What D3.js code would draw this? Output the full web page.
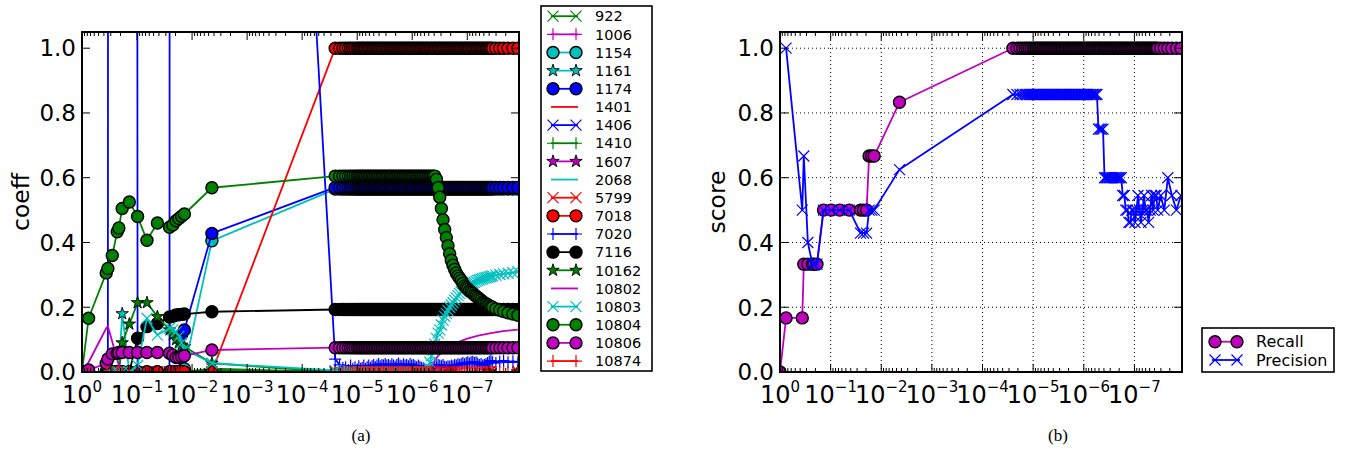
<!DOCTYPE html>
<html><head><meta charset="utf-8">
<script src="https://cdn.jsdelivr.net/npm/d3@7"></script>
<style>
body{margin:0;background:#fff}
svg{display:block}
text{font-family:"DejaVu Sans",sans-serif;fill:#000}
</style></head>
<body><svg id="chart" width="1348" height="451"></svg>
<script>
// ---------- DATA ----------
// x positions given as exponent e, alpha = 10^-e
const negLogAlphaL = [0, 0.12, 0.44, 0.47, 0.55, 0.64, 0.67, 0.73, 0.86, 1.01, 1.18, 1.37, 1.59, 1.65, 1.71, 1.76, 1.81, 1.86, 2.36];
const negLogAlphaR = [4.60, 4.68, 4.74, 4.79, 4.84, 4.88, 4.92, 4.96, 5.00,
  5.03, 5.06, 5.09, 5.12, 5.15, 5.18, 5.21, 5.24, 5.27, 5.30,
  5.33, 5.36, 5.39, 5.42, 5.45, 5.48, 5.51, 5.54, 5.57, 5.60,
  5.63, 5.66, 5.69, 5.72, 5.75, 5.78, 5.81, 5.84, 5.87, 5.90,
  5.93, 5.96, 5.99, 6.02, 6.05, 6.08, 6.11, 6.14, 6.17, 6.20,
  6.23, 6.26, 6.29, 6.32, 6.35, 6.38, 6.41, 6.44, 6.47, 6.50,
  6.53, 6.56, 6.59, 6.62, 6.65, 6.68, 6.71, 6.74, 6.77, 6.80,
  6.83, 6.86, 6.89, 6.92, 6.95, 6.98, 7.01, 7.04, 7.07, 7.10,
  7.13, 7.16, 7.19, 7.22, 7.25, 7.28, 7.31, 7.34, 7.37, 7.40,
  7.43, 7.46, 7.52, 7.59, 7.66, 7.74, 7.83, 7.92];
const negLogAlphaS = [4.60, 5.30, 6.00, 6.70, 7.40, 7.92];
const negLogAlpha10802 = [0, 0.12, 0.44, 0.47, 0.67, 0.73, 1.01, 2.36, 4.60, 6.20, 6.35, 6.47, 6.60, 6.80, 7.00, 7.20, 7.43, 7.65, 7.92];

const seriesIds = ["922","1006","1154","1161","1174","1401","1406","1410","1607","2068","5799","7018","7020","7116","10162","10802","10803","10804","10806","10874"];

// sparse-grid series (left grid + sparse right grid)
const coeff922  = [0,0,0,0,0,0,0,0,0,0,0,0,0,0,0,0,0,0,0.01, 0,0,0,0,0,0];
const coeff1006 = [0,0,0,0,0,0,0,0,0,0,0,0,0,0,0,0,0,0,0, 0,0,0,0,0,0];
const coeff1161 = [0,0,0,0,0,0,0,0.18,0,0,0,0,0,0,0,0,0,0,0, 0,0,0,0,0,0];
const coeff1401 = [0,0,0,0,0,0,0,0,0,0,0,0,0,0,0,0,0,0,0, 0,0,0,0,0,0];
const coeff1406 = [0,0,0,0,0,0,0,0,0,0,0,0,0,0,0,0,0,0,0, 0,0,0,0,0,0];
const coeff1410 = [0,0,0,0,0,0,0,0,0,0,0,0,0,0,0,0,0,0,0.005, 0,0,0,0,0,0];
const coeff1607 = [0,0,0,0,0,0,0,0,0,0,0,0,0,0,0,0,0,0,0, 0,0,0,0,0,0];
const coeff2068 = [0,0,0,0,0,0,0,0,0,0,0,0,0,0,0,0,0,0,0, 0,0,0,0,0,0];
const coeff5799 = [0,0,0,0,0,0,0,0,0,0,0,0,0,0,0,0,0,0,0, 0,0,0,0,0,0];
const coeff10162 = [0,0,0,0,0,0,0,0.09,0.148,0.214,0.214,0.171,0.13,0.115,0.1,0.09,0.083,0.078,0.027, 0,0,0,0,0,0];
const coeff10802 = [0,0.03,0.135,0.142,0.02,0,0,0,0,0,0.02,0.05,0.07,0.09,0.103,0.112,0.12,0.126,0.131];

// full-grid series (left grid 19 values + dense right grid 97 values)
const coeff1154 = [0,0,0,0,0,0,0,0,0,0,0,0,0,0,0,0,0,0.01,0.405,
  0.565,0.565,0.565,0.565,0.565,0.565,0.565,0.565,0.565,
  0.565,0.565,0.565,0.565,0.565,0.565,0.565,0.565,0.565,0.565,
  0.565,0.565,0.565,0.565,0.565,0.565,0.565,0.565,0.565,0.565,
  0.565,0.565,0.565,0.565,0.565,0.565,0.565,0.565,0.565,0.565,
  0.565,0.565,0.565,0.565,0.565,0.565,0.565,0.565,0.565,0.565,
  0.565,0.565,0.565,0.565,0.565,0.565,0.565,0.565,0.565,0.565,
  0.565,0.565,0.565,0.565,0.565,0.565,0.565,0.565,0.565,0.565,
  0.565,0.565,0.565,0.565,0.565,0.565,0.565,0.565,0.565,0.565,
  0.565,0.565,0.565,0.565,0.565,0.565,0.565,0.565,0.565,0.565,
  0.565,0.565,0.565,0.565,0.565,0.565,0.565,0.565];
const coeff1174 = [0,0,0,0,0,0,0,0,0,0,0,0,0,0,0,0,0.115,0.13,0.428,
  0.57,0.57,0.57,0.57,0.57,0.57,0.57,0.57,0.57,
  0.57,0.57,0.57,0.57,0.57,0.57,0.57,0.57,0.57,0.57,
  0.57,0.57,0.57,0.57,0.57,0.57,0.57,0.57,0.57,0.57,
  0.57,0.57,0.57,0.57,0.57,0.57,0.57,0.57,0.57,0.57,
  0.57,0.57,0.57,0.57,0.57,0.57,0.57,0.57,0.57,0.57,
  0.57,0.57,0.57,0.57,0.57,0.57,0.57,0.57,0.57,0.57,
  0.57,0.57,0.57,0.57,0.57,0.57,0.57,0.57,0.57,0.57,
  0.57,0.57,0.57,0.57,0.57,0.57,0.57,0.57,0.57,0.57,
  0.57,0.57,0.57,0.57,0.57,0.57,0.57,0.57,0.57,0.57,
  0.57,0.57,0.57,0.57,0.57,0.57,0.57,0.57];
const coeff7018 = [0,0,0,0,0,0,0,0,0,0,0,0,0,0,0,0,0,0,0,
  1,1,1,1,1,1,1,1,1,
  1,1,1,1,1,1,1,1,1,1,
  1,1,1,1,1,1,1,1,1,1,
  1,1,1,1,1,1,1,1,1,1,
  1,1,1,1,1,1,1,1,1,1,
  1,1,1,1,1,1,1,1,1,1,
  1,1,1,1,1,1,1,1,1,1,
  1,1,1,1,1,1,1,1,1,1,
  1,1,1,1,1,1,1,1,1,1,
  1,1,1,1,1,1,1,1];
const coeff7020 = [0,0,0,0,40,40,40,40,40,0,0,0,0,40,40,40,40,40,6.7,
  0.04,0.022,0.012,0.015,0.006,0.02,0.01,0.015,0.008,
  0.018,0.01,0.012,0.02,0.01,0.015,0.02,0.012,0.018,0.022,
  0.015,0.02,0.025,0.018,0.022,0.02,0.025,0.02,0.022,0.018,
  0.024,0.02,0.016,0.022,0.026,0.02,0.018,0.024,0.02,0.022,
  0.018,0.025,0.02,0.022,0.018,0.015,0.02,0.016,0.012,0.01,
  0.008,0.005,0.006,0.01,0.012,0.015,0.018,0.02,0.022,0.02,
  0.018,0.022,0.016,0.015,0.018,0.016,0.02,0.018,0.022,0.02,
  0.024,0.022,0.025,0.028,0.024,0.028,0.03,0.026,0.03,0.032,
  0.028,0.03,0.026,0.022,0.025,0.02,0.022,0.025,0.028,0.032,
  0.035,0.03,0.028,0.032,0.035,0.03,0.033,0.03];
const coeff7116 = [0,0,0,0,0,0,0,0,0,0.104,0.14,0.15,0.17,0.172,0.176,0.177,0.178,0.179,0.186,
  0.193,0.193,0.193,0.193,0.193,0.193,0.193,0.193,0.193,
  0.193,0.193,0.193,0.193,0.193,0.193,0.193,0.193,0.193,0.193,
  0.193,0.193,0.193,0.193,0.193,0.193,0.193,0.193,0.193,0.193,
  0.193,0.193,0.193,0.193,0.193,0.193,0.193,0.193,0.193,0.193,
  0.193,0.193,0.193,0.193,0.193,0.193,0.193,0.193,0.193,0.193,
  0.193,0.193,0.193,0.193,0.193,0.193,0.193,0.193,0.193,0.193,
  0.193,0.193,0.193,0.193,0.193,0.193,0.193,0.193,0.193,0.193,
  0.193,0.193,0.193,0.193,0.193,0.193,0.193,0.193,0.193,0.193,
  0.193,0.193,0.193,0.193,0.193,0.193,0.193,0.193,0.193,0.193,
  0.193,0.193,0.193,0.193,0.193,0.193,0.193,0.193];
const coeff10803 = [0,0,0,0,0,0,0,0,0,0.02,0.166,0.114,0.135,0.13,0.124,0.11,0.09,0.07,0.027,
  0.005,0,0,0,0,0,0,0,0,
  0,0,0,0,0,0,0,0,0,0,
  0,0,0,0,0,0,0,0,0,0,
  0,0,0,0,0,0,0,0,0,0,
  0,0,0,0,0,0,0,0,0,0,
  0,0,0.015,0.03,0.05,0.068,0.086,0.104,0.12,0.13,
  0.145,0.16,0.172,0.181,0.19,0.2,0.207,0.214,0.222,0.229,
  0.236,0.242,0.247,0.252,0.257,0.262,0.266,0.269,0.272,0.275,
  0.277,0.28,0.283,0.285,0.287,0.288,0.29,0.291,0.292,0.294,
  0.295,0.297,0.299,0.301,0.303,0.305,0.307,0.31];
const coeff10804 = [0,0.166,0.306,0.32,0.36,0.433,0.445,0.505,0.525,0.48,0.407,0.46,0.447,0.454,0.467,0.474,0.481,0.488,0.569,
  0.605,0.605,0.605,0.605,0.605,0.605,0.605,0.605,0.605,
  0.605,0.605,0.605,0.605,0.605,0.605,0.605,0.605,0.605,0.605,
  0.605,0.605,0.605,0.605,0.605,0.605,0.605,0.605,0.605,0.605,
  0.605,0.605,0.605,0.605,0.605,0.605,0.605,0.605,0.605,0.605,
  0.605,0.605,0.605,0.605,0.605,0.605,0.605,0.605,0.605,0.605,
  0.605,0.605,0.605,0.605,0.605,0.605,0.605,0.595,0.57,0.54,
  0.505,0.47,0.44,0.415,0.39,0.365,0.345,0.33,0.317,0.306,
  0.297,0.29,0.283,0.274,0.266,0.26,0.256,0.251,0.247,0.243,
  0.238,0.234,0.23,0.226,0.222,0.217,0.214,0.211,0.208,0.205,
  0.202,0.2,0.195,0.191,0.187,0.183,0.179,0.175];
const coeff10806 = [0,0.006,0.027,0.04,0.056,0.058,0.06,0.06,0.06,0.06,0.06,0.06,0.058,0.052,0.045,0.045,0.048,0.05,0.068,
  0.075,0.075,0.075,0.075,0.075,0.075,0.075,0.075,0.075,
  0.075,0.075,0.075,0.075,0.075,0.075,0.075,0.075,0.075,0.075,
  0.075,0.075,0.075,0.075,0.075,0.075,0.075,0.075,0.075,0.075,
  0.075,0.075,0.075,0.075,0.075,0.075,0.075,0.075,0.075,0.075,
  0.075,0.075,0.075,0.075,0.075,0.075,0.075,0.075,0.075,0.075,
  0.075,0.075,0.075,0.075,0.075,0.075,0.075,0.075,0.075,0.075,
  0.075,0.075,0.075,0.075,0.075,0.075,0.075,0.075,0.075,0.075,
  0.075,0.075,0.075,0.075,0.075,0.075,0.075,0.075,0.075,0.075,
  0.075,0.075,0.075,0.075,0.075,0.075,0.075,0.075,0.075,0.075,
  0.075,0.075,0.075,0.075,0.075,0.075,0.075,0.075];
const coeff10874 = [0,0,0,0,0,0,0,0,0,0,0,0,0,0,0,0,0,0,0,
  0,0,0,0,0,0,0,0,0,
  0,0,0,0,0,0,0,0,0,0,
  0,0,0,0,0,0,0,0,0,0,
  0,0,0,0,0,0,0,0,0,0,
  0,0,0,0,0,0,0,0,0,0,
  0,0,0,0,0,0,0,0,0,0,
  0,0,0,0,0,0,0,0,0,0,
  0,0,0,0,0,0,0,0,0,0,
  0,0,0,0,0,0,0,0,0,0,
  0,0,0,0,0,0,0,0];

// panel (b)
const recall = [0,0.167,0.167,0.333,0.333,0.333,0.333,0.333,0.5,0.5,0.5,0.5,0.5,0.5,0.5,0.667,0.667,0.667,0.833,
  1,1,1,1,1,1,1,1,1,
  1,1,1,1,1,1,1,1,1,1,
  1,1,1,1,1,1,1,1,1,1,
  1,1,1,1,1,1,1,1,1,1,
  1,1,1,1,1,1,1,1,1,1,
  1,1,1,1,1,1,1,1,1,1,
  1,1,1,1,1,1,1,1,1,1,
  1,1,1,1,1,1,1,1,1,1,
  1,1,1,1,1,1,1,1,1,1,
  1,1,1,1,1,1,1,1];
const precision = [null,1.0,0.5,0.667,0.4,0.333,0.333,0.333,0.5,0.5,0.5,0.5,0.429,0.429,0.429,0.5,0.5,0.5,0.625,
  0.857,0.857,0.857,0.857,0.857,0.857,0.857,0.857,0.857,
  0.857,0.857,0.857,0.857,0.857,0.857,0.857,0.857,0.857,0.857,
  0.857,0.857,0.857,0.857,0.857,0.857,0.857,0.857,0.857,0.857,
  0.857,0.857,0.857,0.857,0.857,0.857,0.857,0.857,0.857,0.857,
  0.857,0.857,0.857,0.857,0.857,0.857,0.857,0.857,0.857,0.857,
  0.857,0.857,0.75,0.75,0.75,0.75,0.6,0.6,0.6,0.6,
  0.6,0.6,0.6,0.6,0.6,0.6,0.6,0.6,0.545,0.545,
  0.5,0.5,0.462,0.462,0.5,0.5,0.462,0.5,0.545,0.5,
  0.462,0.5,0.545,0.5,0.5,0.462,0.5,0.545,0.5,0.545,
  0.545,0.5,0.545,0.5,0.6,0.545,0.5,0.545];

const yTicks = [0, 0.2, 0.4, 0.6, 0.8, 1.0];
const xTickExponents = [0, -1, -2, -3, -4, -5, -6, -7];
const panelAYLabel = "coeff", panelBYLabel = "score";
const captionA = "(a)", captionB = "(b)";
const legendB = ["Recall", "Precision"];

// ---------- STYLES ----------
const C = {g:"#008000", m:"#bf00bf", c:"#00bfbf", b:"#0000ff", r:"#ff0000", k:"#000000"};
const styleById = {
  "922":{color:C.g,marker:"x"}, "1006":{color:C.m,marker:"+"}, "1154":{color:C.c,marker:"o"},
  "1161":{color:C.c,marker:"*"}, "1174":{color:C.b,marker:"o"}, "1401":{color:C.r,marker:null},
  "1406":{color:C.b,marker:"x"}, "1410":{color:C.g,marker:"+"}, "1607":{color:C.m,marker:"*"},
  "2068":{color:C.c,marker:null}, "5799":{color:C.r,marker:"x"}, "7018":{color:C.r,marker:"o"},
  "7020":{color:C.b,marker:"+"}, "7116":{color:C.k,marker:"o"}, "10162":{color:C.g,marker:"*"},
  "10802":{color:C.m,marker:null}, "10803":{color:C.c,marker:"x"}, "10804":{color:C.g,marker:"o"},
  "10806":{color:C.m,marker:"o"}, "10874":{color:C.r,marker:"+"}
};

const gridFull = negLogAlphaL.concat(negLogAlphaR);
const gridSparse = negLogAlphaL.concat(negLogAlphaS);
const seriesValues = {
  "922":[gridSparse,coeff922], "1006":[gridSparse,coeff1006], "1154":[gridFull,coeff1154],
  "1161":[gridSparse,coeff1161], "1174":[gridFull,coeff1174], "1401":[gridSparse,coeff1401],
  "1406":[gridSparse,coeff1406], "1410":[gridSparse,coeff1410], "1607":[gridSparse,coeff1607],
  "2068":[gridSparse,coeff2068], "5799":[gridSparse,coeff5799], "7018":[gridFull,coeff7018],
  "7020":[gridFull,coeff7020], "7116":[gridFull,coeff7116], "10162":[gridSparse,coeff10162],
  "10802":[negLogAlpha10802,coeff10802], "10803":[gridFull,coeff10803], "10804":[gridFull,coeff10804],
  "10806":[gridFull,coeff10806], "10874":[gridFull,coeff10874]
};

// ---------- DRAW ----------
const svg = d3.select("#chart");
const LW = 1.8;

function drawMarker(g, type, color, x, y) {
  if (type === "o") {
    g.append("circle").attr("cx", x).attr("cy", y).attr("r", 6)
      .attr("fill", color).attr("stroke", "#000").attr("stroke-width", 1.4);
  } else if (type === "*") {
    g.append("path").attr("d", d3.symbol(d3.symbolStar, 48)())
      .attr("transform", `translate(${x},${y})`)
      .attr("fill", color).attr("stroke", "#000").attr("stroke-width", 0.9);
  } else if (type === "x") {
    const s = 5.5;
    g.append("path").attr("d", `M${x-s},${y-s}L${x+s},${y+s}M${x-s},${y+s}L${x+s},${y-s}`)
      .attr("stroke", color).attr("stroke-width", 1.2).attr("fill", "none");
  } else if (type === "+") {
    const s = 6;
    g.append("path").attr("d", `M${x-s},${y}H${x+s}M${x},${y-s}V${y+s}`)
      .attr("stroke", color).attr("stroke-width", 1.2).attr("fill", "none");
  }
}

function drawSeries(g, xs, ys, xS, yS, st) {
  const pts = xs.map((e, i) => ({a: Math.pow(10, -e), v: ys[i]})).filter(p => p.v !== null && p.v !== undefined);
  g.append("path").datum(pts)
    .attr("d", d3.line().x(p => xS(p.a)).y(p => yS(p.v)))
    .attr("fill", "none").attr("stroke", st.color).attr("stroke-width", LW)
    .attr("stroke-linejoin", "round");
  if (st.marker) pts.forEach(p => drawMarker(g, st.marker, st.color, xS(p.a), yS(p.v)));
}

function makePanel(box, id, withGrid) {
  const x = d3.scaleLog().domain([1, Math.pow(10, -7.94)]).range([box.left, box.right]);
  const y = d3.scaleLinear().domain([0, 1.05]).range([box.bottom, box.top]);
  svg.append("clipPath").attr("id", id).append("rect")
    .attr("x", box.left).attr("y", box.top)
    .attr("width", box.right - box.left).attr("height", box.bottom - box.top);
  const gGrid = svg.append("g");
  if (withGrid) {
    xTickExponents.slice(1).forEach(e => {
      const px = x(Math.pow(10, e));
      gGrid.append("line").attr("x1", px).attr("x2", px).attr("y1", box.top).attr("y2", box.bottom)
        .attr("stroke", "#000").attr("stroke-width", 1).attr("stroke-dasharray", "1,3");
    });
    yTicks.slice(1).forEach(v => {
      gGrid.append("line").attr("x1", box.left).attr("x2", box.right).attr("y1", y(v)).attr("y2", y(v))
        .attr("stroke", "#000").attr("stroke-width", 1).attr("stroke-dasharray", "1,3");
    });
  }
  const data = svg.append("g").attr("clip-path", `url(#${id})`);
  const axes = svg.append("g");
  x.ticks().forEach(t => {
    const e = Math.log10(t);
    const major = Math.abs(e - Math.round(e)) < 1e-6;
    const len = major ? 8 : 4;
    const px = x(t);
    axes.append("line").attr("x1", px).attr("x2", px).attr("y1", box.bottom).attr("y2", box.bottom - len)
      .attr("stroke", "#000").attr("stroke-width", 1);
    axes.append("line").attr("x1", px).attr("x2", px).attr("y1", box.top).attr("y2", box.top + len)
      .attr("stroke", "#000").attr("stroke-width", 1);
  });
  yTicks.forEach(v => {
    const py = y(v);
    axes.append("line").attr("x1", box.left).attr("x2", box.left + 8).attr("y1", py).attr("y2", py)
      .attr("stroke", "#000").attr("stroke-width", 1);
    axes.append("line").attr("x1", box.right).attr("x2", box.right - 8).attr("y1", py).attr("y2", py)
      .attr("stroke", "#000").attr("stroke-width", 1);
    axes.append("text").attr("x", box.left - 6).attr("y", py).attr("dy", "0.36em")
      .attr("text-anchor", "end").style("font-size", "23px").text(d3.format(".1f")(v));
  });
  xTickExponents.forEach(e => {
    const px = x(Math.pow(10, e));
    const t = axes.append("text").attr("x", px).attr("y", 403).attr("text-anchor", "middle")
      .style("font-size", "24px");
    t.append("tspan").text("10");
    t.append("tspan").attr("dy", -11).style("font-size", "15px")
      .text(e === 0 ? "0" : "\u2212" + Math.abs(e));
  });
  axes.append("rect").attr("x", box.left).attr("y", box.top)
    .attr("width", box.right - box.left).attr("height", box.bottom - box.top)
    .attr("fill", "none").attr("stroke", "#000").attr("stroke-width", 2);
  return {x, y, data, axes};
}

// Panel (a)
const boxA = {left: 82, right: 519, top: 32, bottom: 372};
const pA = makePanel(boxA, "clipA", false);
seriesIds.forEach(id => {
  const [xs, ys] = seriesValues[id];
  drawSeries(pA.data, xs, ys, pA.x, pA.y, styleById[id]);
});
svg.append("text").attr("transform", "translate(29,202) rotate(-90)")
  .attr("text-anchor", "middle").style("font-size", "23.5px").text(panelAYLabel);

// legend (a)
const legA = svg.append("g");
legA.append("rect").attr("x", 541).attr("y", 6).attr("width", 111).attr("height", 365)
  .attr("fill", "#fff").attr("stroke", "#000").attr("stroke-width", 1.6);
seriesIds.forEach((id, i) => {
  const yy = 16.2 + 18.15 * i;
  const st = styleById[id];
  legA.append("line").attr("x1", 551).attr("x2", 578).attr("y1", yy).attr("y2", yy)
    .attr("stroke", st.color).attr("stroke-width", LW);
  if (st.marker) { drawMarker(legA, st.marker, st.color, 553, yy); drawMarker(legA, st.marker, st.color, 576, yy); }
  legA.append("text").attr("x", 595).attr("y", yy).attr("dy", "0.36em")
    .style("font-size", "14.5px").text(id);
});

// Panel (b)
const boxB = {left: 780, right: 1182, top: 32, bottom: 372};
const pB = makePanel(boxB, "clipB", true);
drawSeries(pB.data, gridFull, recall, pB.x, pB.y, {color: C.m, marker: "o"});
drawSeries(pB.data, gridFull, precision, pB.x, pB.y, {color: C.b, marker: "x"});
svg.append("text").attr("transform", "translate(725,202) rotate(-90)")
  .attr("text-anchor", "middle").style("font-size", "23.5px").text(panelBYLabel);

// legend (b)
const legB = svg.append("g");
legB.append("rect").attr("x", 1202).attr("y", 328).attr("width", 132).attr("height", 44)
  .attr("fill", "#fff").attr("stroke", "#000").attr("stroke-width", 1.6);
[{name: legendB[0], color: C.m, marker: "o", y: 341.7}, {name: legendB[1], color: C.b, marker: "x", y: 360}]
  .forEach(e => {
    legB.append("line").attr("x1", 1212).attr("x2", 1240).attr("y1", e.y).attr("y2", e.y)
      .attr("stroke", e.color).attr("stroke-width", LW);
    drawMarker(legB, e.marker, e.color, 1215, e.y);
    drawMarker(legB, e.marker, e.color, 1237, e.y);
    legB.append("text").attr("x", 1256).attr("y", e.y).attr("dy", "0.36em")
      .style("font-size", "16px").text(e.name);
  });

// captions
svg.append("text").attr("x", 361).attr("y", 441).attr("text-anchor", "middle")
  .style("font-family", "'Liberation Serif', serif").style("font-size", "17px").text(captionA);
svg.append("text").attr("x", 1058).attr("y", 441).attr("text-anchor", "middle")
  .style("font-family", "'Liberation Serif', serif").style("font-size", "17px").text(captionB);
</script>
</body></html>
